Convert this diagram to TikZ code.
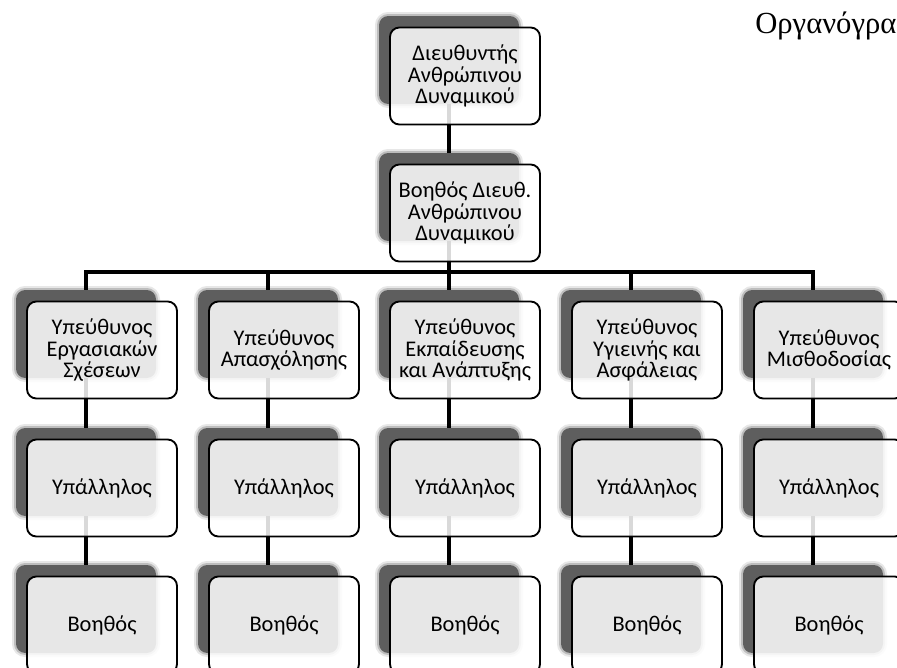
\documentclass[tikz,border=0pt]{standalone}
\usepackage{fontspec}
\setmainfont{Carlito}
\newfontfamily\titlefont{Liberation Serif}
\tikzset{
 shadowbox/.style={fill=black!63, rounded corners=7pt, minimum width=105pt, minimum height=66pt, inner sep=0pt,
   preaction={draw=black!63, line width=6pt, draw opacity=0.15},
   preaction={draw=black!63, line width=3pt, draw opacity=0.3}},
 frontbox/.style={draw=black, line width=1.4pt, fill=white, fill opacity=0.85, text opacity=1,
   rounded corners=7pt, minimum width=112.5pt, minimum height=72.75pt, inner sep=2pt, align=center,
   font=\fontsize{16.8}{15.9}\selectfont},
 conn/.style={line width=3.6pt, draw=black}
}
\newcommand\oshadow[3]{\node[shadowbox] (s#1) at (#2,#3+32) {};}
\newcommand\ofront[4]{\node[frontbox] (#1) at (#2+16,#3+48) {#4};}
\begin{document}
\begin{tikzpicture}[x=0.75pt,y=-0.75pt]
\useasboundingbox (0,0) rectangle (897,668);
\fill[white] (0,0) rectangle (897,668);
\clip (0,0) rectangle (897,668);
% shadows
\oshadow{d}{449}{28}
\oshadow{a}{449}{165}
\foreach \i/\c in {1/86,2/268,3/449,4/631,5/813}{%
  \oshadow{m\i}{\c}{302}
  \oshadow{e\i}{\c}{440}
  \oshadow{b\i}{\c}{577}
}
% connectors
\coordinate (bar) at (449,272);
\draw[conn] (sd.south) -- (sa.north);
\draw[conn] (sa.south) -- (bar);
\draw[conn] (sm1.north) |- (bar) -| (sm5.north);
\foreach \i in {2,3,4} {\draw[conn] (sm\i.north) -- (sm\i.north |- bar);}
\foreach \i in {1,...,5} {%
  \draw[conn] (sm\i.south) -- (se\i.north);
  \draw[conn] (se\i.south) -- (sb\i.north);
}
% front boxes
\ofront{d}{449}{28}{Διευθυντής\\Ανθρώπινου\\Δυναμικού}
\ofront{a}{449}{165}{Βοηθός Διευθ.\\Ανθρώπινου\\Δυναμικού}
\ofront{m1}{86}{302}{Υπεύθυνος\\Εργασιακών\\Σχέσεων}
\ofront{m2}{268}{302}{Υπεύθυνος\\Απασχόλησης}
\ofront{m3}{449}{302}{Υπεύθυνος\\Εκπαίδευσης\\και Ανάπτυξης}
\ofront{m4}{631}{302}{Υπεύθυνος\\Υγιεινής και\\Ασφάλειας}
\ofront{m5}{813}{302}{Υπεύθυνος\\Μισθοδοσίας}
\foreach \i/\c in {1/86,2/268,3/449,4/631,5/813}{%
  \ofront{e\i}{\c}{440}{Υπάλληλος}
  \ofront{b\i}{\c}{577}{Βοηθός}
}
% title
\node[anchor=base west, inner sep=0pt, font=\titlefont\fontsize{23}{27}\selectfont] (title) at (755,33) {Οργανόγρα};
\end{tikzpicture}
\end{document}
